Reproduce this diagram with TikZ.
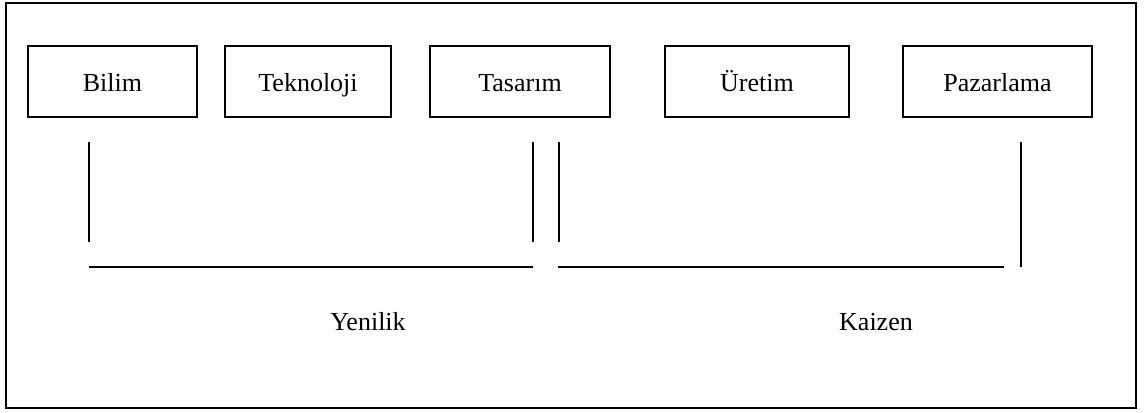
\documentclass[tikz,border=0pt]{standalone}
\usepackage{fontspec}
\setmainfont{Liberation Serif}
\begin{document}
\begin{tikzpicture}[x=0.5pt,y=-0.5pt,
  stagebox/.style={draw, line width=1pt, inner sep=0pt, minimum height=35.5pt,
    text height=9.5pt, text depth=0pt, font=\fontsize{13}{15}\selectfont},
  bracket/.style={line width=0.55pt},
  phase/.style={inner sep=0pt, text height=9.5pt, text depth=0pt,
    font=\fontsize{13}{15}\selectfont}]
  % page extent and outer frame
  \useasboundingbox (0,0) rectangle (1144,412);
  \draw[line width=1pt] (6,3) rectangle (1136,408);

  % stages of the chain
  \node[stagebox, minimum width=84.5pt] (bilim)     at (112.5,81.5) {Bilim};
  \node[stagebox, minimum width=83pt]   (teknoloji) at (308,81.5)   {Teknoloji};
  \node[stagebox, minimum width=90pt]   (tasarim)   at (520,81.5)   {Tasarım};
  \node[stagebox, minimum width=92pt]   (uretim)    at (757,81.5)   {Üretim};
  \node[stagebox, minimum width=94.5pt] (pazarlama) at (997.5,81.5) {Pazarlama};

  % bracket end points
  \coordinate (yA) at (89,142);   \coordinate (yB) at (89,242);
  \coordinate (yC) at (533,142);  \coordinate (yD) at (533,242);
  \coordinate (yL) at (89,267);   \coordinate (yR) at (533,267);
  \coordinate (kA) at (559,142);  \coordinate (kB) at (559,242);
  \coordinate (kC) at (1021,142); \coordinate (kD) at (1021,267);
  \coordinate (kL) at (558,267);  \coordinate (kR) at (1004,267);

  % innovation span
  \draw[bracket] (yA) -- (yB);
  \draw[bracket] (yC) -- (yD);
  \draw[bracket] (yL) -- (yR);
  % kaizen span
  \draw[bracket] (kA) -- (kB);
  \draw[bracket] (kC) -- (kD);
  \draw[bracket] (kL) -- (kR);

  % span labels
  \node[phase] (yenilik) at (368,321) {Yenilik};
  \node[phase] (kaizen)  at (876,321) {Kaizen};
\end{tikzpicture}
\end{document}
